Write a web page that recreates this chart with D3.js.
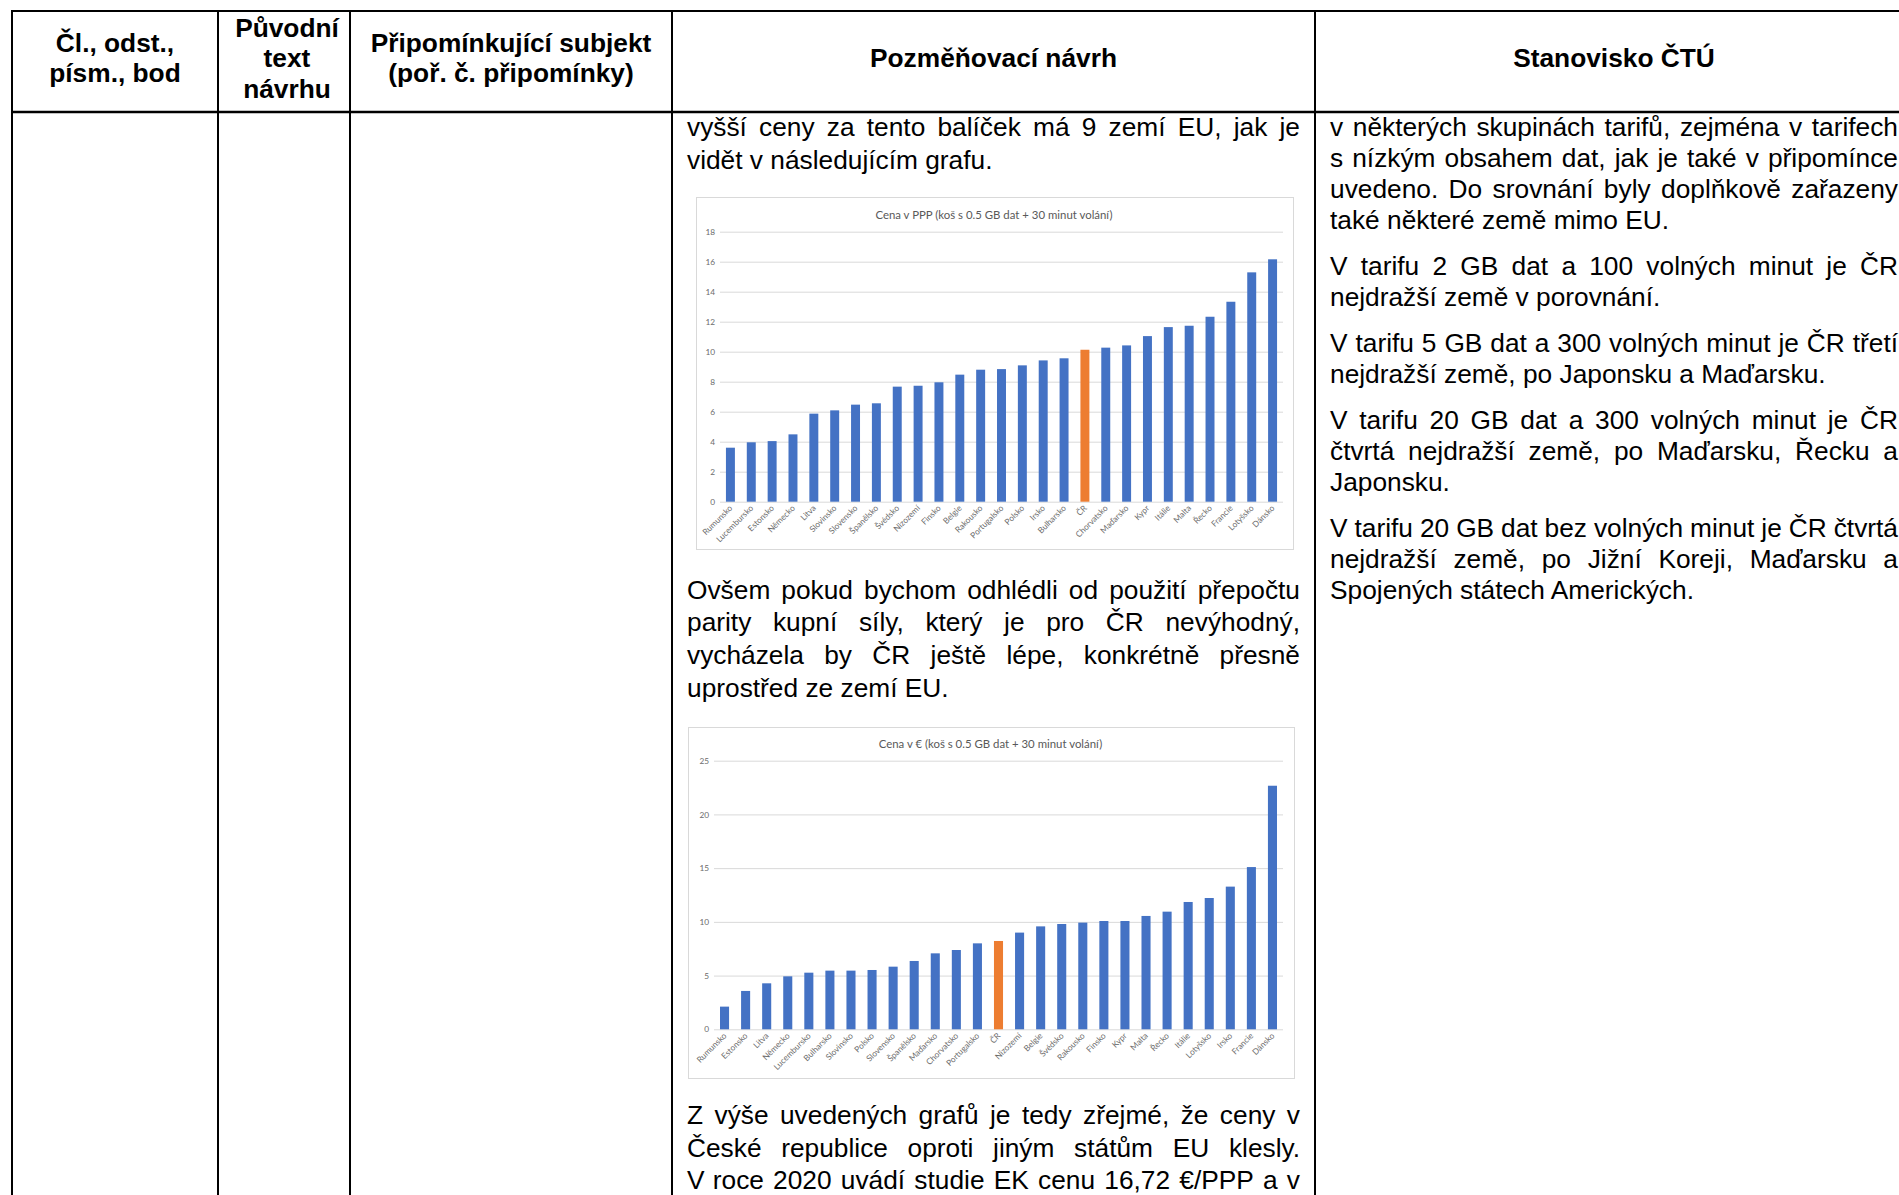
<!DOCTYPE html>
<html><head><meta charset="utf-8">
<script src="https://cdn.jsdelivr.net/npm/d3@7"></script>
<style>
html,body{margin:0;padding:0;background:#fff;overflow:hidden}
.body{font-family:"Liberation Sans",Arial,sans-serif;font-size:26.3px;fill:#000}
.head{font-family:"Liberation Sans",Arial,sans-serif;font-size:26.3px;font-weight:bold;fill:#000}
.ctitle{font-family:Lato,"Open Sans",sans-serif;font-size:11.4px;fill:#595959}
.ctick{font-family:Lato,"Open Sans",sans-serif;font-size:8.3px;fill:#6b6b6b}
</style>
</head><body>
<svg id="page" width="1899" height="1195"></svg>
<script>
// ---------- data ----------
const headerCol1 = ["Čl., odst.,", "písm., bod"];
const headerCol2 = ["Původní", "text", "návrhu"];
const headerCol3 = ["Připomínkující subjekt", "(poř. č. připomínky)"];
const headerCol4 = ["Pozměňovací návrh"];
const headerCol5 = ["Stanovisko ČTÚ"];

const midPara1 = ["vyšší ceny za tento balíček má 9 zemí EU, jak je", "vidět v následujícím grafu."];
const midPara2 = ["Ovšem pokud bychom odhlédli od použití přepočtu", "parity kupní síly, který je pro ČR nevýhodný,", "vycházela by ČR ještě lépe, konkrétně přesně", "uprostřed ze zemí EU."];
const midPara3 = ["Z výše uvedených grafů je tedy zřejmé, že ceny v", "České republice oproti jiným státům EU klesly.", "V roce 2020 uvádí studie EK cenu 16,72 €/PPP a v"];

const rightParas = [
  ["v některých skupinách tarifů, zejména v tarifech", "s nízkým obsahem dat, jak je také v připomínce", "uvedeno. Do srovnání byly doplňkově zařazeny", "také některé země mimo EU."],
  ["V tarifu 2 GB dat a 100 volných minut je ČR", "nejdražší země v porovnání."],
  ["V tarifu 5 GB dat a 300 volných minut je ČR třetí", "nejdražší země, po Japonsku a Maďarsku."],
  ["V tarifu 20 GB dat a 300 volných minut je ČR", "čtvrtá nejdražší země, po Maďarsku, Řecku a", "Japonsku."],
  ["V tarifu 20 GB dat bez volných minut je ČR čtvrtá", "nejdražší země, po Jižní Koreji, Maďarsku a", "Spojených státech Amerických."]
];

const chart1Title = "Cena v PPP (koš s 0.5 GB dat + 30 minut volání)";
const chart1Categories = ["Rumunsko","Lucembursko","Estonsko","Německo","Litva","Slovinsko","Slovensko","Španělsko","Švédsko","Nizozemí","Finsko","Belgie","Rakousko","Portugalsko","Polsko","Irsko","Bulharsko","ČR","Chorvatsko","Maďarsko","Kypr","Itálie","Malta","Řecko","Francie","Lotyšsko","Dánsko"];
const chart1Values = [3.6,3.96,4.04,4.49,5.87,6.09,6.47,6.56,7.67,7.73,7.96,8.47,8.8,8.84,9.09,9.42,9.56,10.13,10.27,10.42,11.04,11.64,11.73,12.33,13.33,15.29,16.16];
const chart1Ticks = [0,2,4,6,8,10,12,14,16,18];

const chart2Title = "Cena v € (koš s 0.5 GB dat + 30 minut volání)";
const chart2Categories = ["Rumunsko","Estonsko","Litva","Německo","Lucembursko","Bulharsko","Slovinsko","Polsko","Slovensko","Španělsko","Maďarsko","Chorvatsko","Portugalsko","ČR","Nizozemí","Belgie","Švédsko","Rakousko","Finsko","Kypr","Malta","Řecko","Itálie","Lotyšsko","Irsko","Francie","Dánsko"];
const chart2Values = [2.11,3.57,4.28,4.93,5.27,5.46,5.46,5.52,5.83,6.36,7.07,7.38,8.0,8.22,9.0,9.58,9.8,9.93,10.08,10.08,10.55,10.95,11.85,12.22,13.28,15.1,22.67];
const chart2Ticks = [0,5,10,15,20,25];

const highlightCategory = "ČR";

// ---------- layout ----------
const svg = d3.select("#page");
const colX = [12, 218, 350, 672, 1315, 1913];
const tableTop = 11, headBottom = 112, pageH = 1195;

// table lines
const lines = svg.append("g").attr("stroke", "#000").attr("stroke-width", 2);
colX.forEach(x => lines.append("line").attr("x1", x).attr("x2", x).attr("y1", tableTop).attr("y2", pageH + 5));
lines.append("line").attr("x1", colX[0]-1).attr("x2", 1913).attr("y1", tableTop).attr("y2", tableTop);
lines.append("line").attr("x1", colX[0]-1).attr("x2", 1913).attr("y1", headBottom).attr("y2", headBottom).attr("stroke-width", 2.5);

// headers
const headers = [headerCol1, headerCol2, headerCol3, headerCol4, headerCol5];
const headOffsets = [0, 3, 0, 0, 0];
const headLH = 30.5;
headers.forEach((hl, i) => {
  const cx = (colX[i] + colX[i+1]) / 2 + headOffsets[i];
  const mid = 67.5;
  const y0 = mid - (hl.length - 1) * headLH / 2;
  hl.forEach((s, j) => {
    svg.append("text").attr("class", "head").attr("x", cx).attr("y", y0 + j * headLH - 0.5)
      .attr("text-anchor", "middle").text(s);
  });
});

// justified text
function textLine(str, x0, x1, y, justify) {
  const t = svg.append("text").attr("class", "body").attr("y", y);
  if (!justify) { t.attr("x", x0).text(str); return; }
  const words = str.split(" ");
  const spans = words.map(w => t.append("tspan").text(w));
  const widths = spans.map(s => s.node().getComputedTextLength());
  const gap = (x1 - x0 - d3.sum(widths)) / (words.length - 1);
  let x = x0;
  spans.forEach((s, i) => { s.attr("x", x); x += widths[i] + gap; });
}
function paragraph(ls, x0, x1, y0, lh, justifyLast) {
  ls.forEach((s, i) => textLine(s, x0, x1, y0 + i * lh, i < ls.length - 1 || justifyLast));
}

const midL = 687, midR = 1300, midLH = 32.7;
paragraph(midPara1, midL, midR, 136, midLH, false);
paragraph(midPara2, midL, midR, 598.5, midLH, false);
paragraph(midPara3, midL, midR, 1124, midLH, true);

const rL = 1330, rR = 1898, rLH = 31, rGap = 15;
let ry = 136;
rightParas.forEach(p => {
  paragraph(p, rL, rR, ry, rLH, false);
  ry += p.length * rLH + rGap;
});

// charts
function drawChart(cfg) {
  const g = svg.append("g");
  g.append("rect").attr("x", cfg.box[0] + 0.5).attr("y", cfg.box[1] + 0.5)
    .attr("width", cfg.box[2]).attr("height", cfg.box[3])
    .attr("fill", "#fff").attr("stroke", "#d9d9d9").attr("stroke-width", 1);
  const x = d3.scaleBand().domain(cfg.categories).range(cfg.xr).paddingInner(0.57).paddingOuter(0.285);
  const y = d3.scaleLinear().domain([0, d3.max(cfg.ticks)]).range(cfg.yr);
  const ax = g.append("g").attr("transform", `translate(${cfg.xr[0]},0)`)
    .call(d3.axisLeft(y).tickValues(cfg.ticks).tickSize(-(cfg.xr[1] - cfg.xr[0])).tickPadding(5).tickFormat(d3.format("d")));
  ax.select(".domain").remove();
  ax.selectAll(".tick line").attr("stroke", "#d9d9d9").attr("stroke-width", 1);
  ax.selectAll(".tick text").attr("class", "ctick").attr("fill", null);
  g.selectAll("rect.bar").data(cfg.values).join("rect").attr("class", "bar")
    .attr("x", (d, i) => x(cfg.categories[i])).attr("width", x.bandwidth())
    .attr("y", d => y(d)).attr("height", d => y(0) - y(d))
    .attr("fill", (d, i) => cfg.categories[i] === highlightCategory ? "#ED7D31" : "#4472C4");
  g.selectAll("text.xl").data(cfg.categories).join("text").attr("class", "ctick xl")
    .attr("text-anchor", "end")
    .attr("transform", d => `translate(${x(d) + x.bandwidth() / 2 + 2.5},${y(0) + 7}) rotate(-45)`)
    .text(d => d);
  g.append("text").attr("class", "ctitle").attr("text-anchor", "middle")
    .attr("x", cfg.titleX).attr("y", cfg.titleY).text(cfg.title);
}

drawChart({
  box: [696, 197, 597, 352], xr: [720, 1283], yr: [501.7, 231.7],
  categories: chart1Categories, values: chart1Values, ticks: chart1Ticks,
  title: chart1Title, titleX: 994, titleY: 219
});
drawChart({
  box: [688, 727, 606, 351], xr: [714, 1283], yr: [1029.3, 760.7],
  categories: chart2Categories, values: chart2Values, ticks: chart2Ticks,
  title: chart2Title, titleX: 990.5, titleY: 748
});
</script>
</body></html>
